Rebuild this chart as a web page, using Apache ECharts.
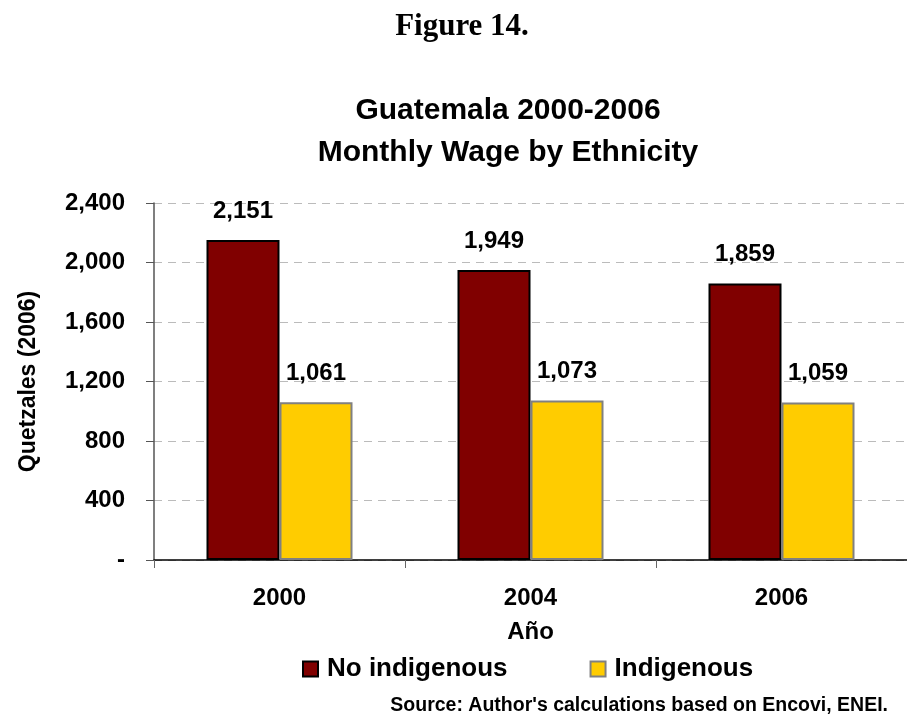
<!DOCTYPE html>
<html><head><meta charset="utf-8">
<script src="https://cdn.jsdelivr.net/npm/echarts@6/dist/echarts.min.js"></script>
<style>html,body{margin:0;padding:0;background:#fff}#c{width:907px;height:717px}</style>
</head><body><div id="c"></div>
<script>
const years = ['2000', '2004', '2006'];
const noIndigenous = [2151, 1949, 1859];
const indigenous = [1061, 1073, 1059];
const yTicks = [0, 400, 800, 1200, 1600, 2000, 2400];
const seriesNames = ['No indigenous', 'Indigenous'];
const F = '"Liberation Sans", Arial, sans-serif';
const fmt = v => v === 0 ? '-' : v.toLocaleString('en-US');
const chart = echarts.init(document.getElementById('c'));
chart.setOption({
  animation: false,
  backgroundColor: '#fff',
  textStyle: {fontFamily: F},
  title: [
    {text: 'Figure 14.', left: 457, top: 6, textAlign: 'center',
     textStyle: {fontFamily: '"Liberation Serif", "Times New Roman", serif', fontWeight: 'bold', fontSize: 31, color: '#000'}},
    {text: 'Guatemala 2000-2006\nMonthly Wage by Ethnicity', left: 503, top: 85, textAlign: 'center',
     textStyle: {fontFamily: F, fontWeight: 'bold', fontSize: 30, lineHeight: 42, color: '#000'}}
  ],
  legend: {
    data: seriesNames, left: 297, top: 651, icon: 'rect', itemWidth: 15, itemHeight: 15, itemGap: 82,
    textStyle: {fontFamily: F, fontWeight: 'bold', fontSize: 26, color: '#000', padding: [0, 0, 0, 4]}
  },
  grid: {left: 154, top: 203, width: 759, height: 357},
  xAxis: {
    type: 'category', data: years,
    name: 'Año', nameLocation: 'middle', nameGap: 60,
    nameTextStyle: {fontFamily: F, fontWeight: 'bold', fontSize: 24, color: '#000'},
    axisLine: {lineStyle: {color: '#000', width: 1.5}},
    axisTick: {show: true, length: 8, lineStyle: {color: '#666'}},
    axisLabel: {fontFamily: F, fontWeight: 'bold', fontSize: 24, color: '#000', margin: 26}
  },
  yAxis: {
    type: 'value', min: yTicks[0], max: yTicks[yTicks.length - 1], interval: yTicks[1] - yTicks[0],
    name: 'Quetzales (2006)', nameLocation: 'middle', nameGap: 114, nameRotate: 90,
    nameTextStyle: {fontFamily: F, fontWeight: 'bold', fontSize: 23, color: '#000'},
    axisLine: {show: true, lineStyle: {color: '#555', width: 1.5}},
    axisTick: {show: true, length: 8, lineStyle: {color: '#555'}},
    axisLabel: {fontFamily: F, fontWeight: 'bold', fontSize: 24, color: '#000', margin: 29, formatter: fmt},
    splitLine: {lineStyle: {color: '#bbb', type: [8, 6], width: 1}}
  },
  series: [
    {name: seriesNames[0], type: 'bar', data: noIndigenous, barWidth: 73, barGap: '0%',
     itemStyle: {color: '#800000', borderColor: '#000', borderWidth: 2},
     label: {show: true, position: 'top', distance: 17, formatter: p => fmt(p.value),
       fontFamily: F, fontWeight: 'bold', fontSize: 24, color: '#000'}},
    {name: seriesNames[1], type: 'bar', data: indigenous, barWidth: 73,
     itemStyle: {color: '#FFCC00', borderColor: '#808080', borderWidth: 2},
     label: {show: true, position: 'top', distance: 17, formatter: p => fmt(p.value),
       fontFamily: F, fontWeight: 'bold', fontSize: 24, color: '#000'}}
  ],
  graphic: [
    {type: 'text', right: 19, top: 696,
     style: {text: "Source: Author's calculations based on Encovi, ENEI.", fill: '#000',
       font: 'bold 19.5px "Liberation Sans", Arial, sans-serif'}}
  ]
});
</script></body></html>
